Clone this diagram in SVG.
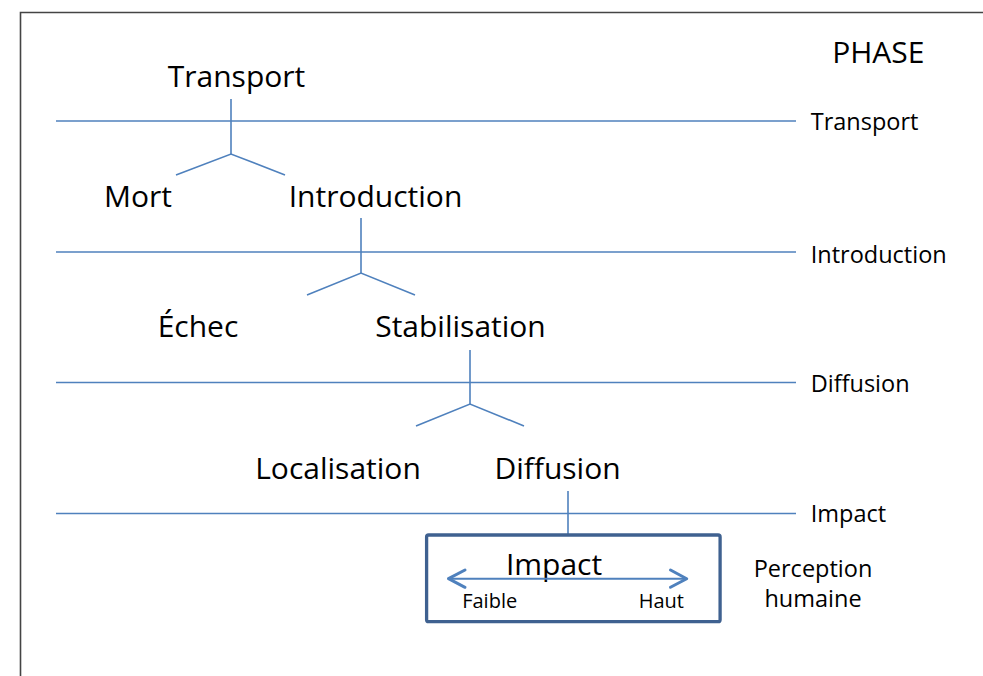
<svg xmlns="http://www.w3.org/2000/svg" width="983" height="676" viewBox="0 0 983 676">
<style>
text{font-family:"Open Sans","Liberation Sans",sans-serif;fill:#000}
.big{font-size:30px;text-anchor:middle}
.phase{font-size:23.5px}
.small{font-size:20px;text-anchor:middle}
.ln{stroke:#4F81BD;stroke-width:1.6;fill:none}
.arr{stroke:#4F81BD;fill:none;stroke-linecap:round;stroke-linejoin:round}
</style>
<rect x="0" y="0" width="983" height="676" fill="#fff"/>
<path d="M20.5,690 V12.5 H1000" fill="none" stroke="#444" stroke-width="1.6"/>
<g id="connectors">
<line class="ln" x1="56" y1="121" x2="796" y2="121"/>
<line class="ln" x1="56" y1="252" x2="796" y2="252"/>
<line class="ln" x1="56" y1="382.5" x2="796" y2="382.5"/>
<line class="ln" x1="56" y1="513.5" x2="796" y2="513.5"/>
<polyline class="ln" points="231,99 231,154"/>
<polyline class="ln" points="176,175 231,154 285,175"/>
<polyline class="ln" points="361,218 361,273"/>
<polyline class="ln" points="307,295 361,273 415,295"/>
<polyline class="ln" points="470,350 470,404"/>
<polyline class="ln" points="416,426 470,404 524,426"/>
<polyline class="ln" points="568,491 568,534"/>
</g>
<g id="n-transport"><text class="big" x="236.5" y="87">Transport</text></g>
<g id="n-mort"><text class="big" x="138" y="207">Mort</text></g>
<g id="n-introduction"><text class="big" x="375.5" y="207">Introduction</text></g>
<g id="n-echec"><text class="big" x="198" y="337">Échec</text></g>
<g id="n-stabilisation"><text class="big" x="460.5" y="337">Stabilisation</text></g>
<g id="n-localisation"><text class="big" x="338" y="479">Localisation</text></g>
<g id="n-diffusion"><text class="big" x="557.5" y="479">Diffusion</text></g>
<g id="n-impact">
<rect x="426.6" y="535" width="293.5" height="86.7" rx="2" fill="none" stroke="#3F6190" stroke-width="3.3"/>
<text class="big" x="554" y="575">Impact</text>
<line class="arr" x1="450" y1="578.7" x2="685" y2="578.7" stroke-width="2"/>
<polyline class="arr" points="465,570 448.5,578.7 465,587.3" stroke-width="3"/>
<polyline class="arr" points="670.5,570 686.7,578.7 670.5,587.3" stroke-width="3"/>
<text class="small" x="489.7" y="608.3">Faible</text>
<text class="small" x="661.3" y="608.3">Haut</text>
</g>
<g id="phases">
<text x="878.3" y="63.3" style="font-size:30px;text-anchor:middle">PHASE</text>
<text class="phase" x="810.7" y="129.5">Transport</text>
<text class="phase" x="810.7" y="263.3">Introduction</text>
<text class="phase" x="810.7" y="392.3">Diffusion</text>
<text class="phase" x="810.7" y="522.3">Impact</text>
<text class="phase" x="813" y="577.3" text-anchor="middle">Perception</text>
<text class="phase" x="813" y="607.3" text-anchor="middle">humaine</text>
</g>
</svg>
